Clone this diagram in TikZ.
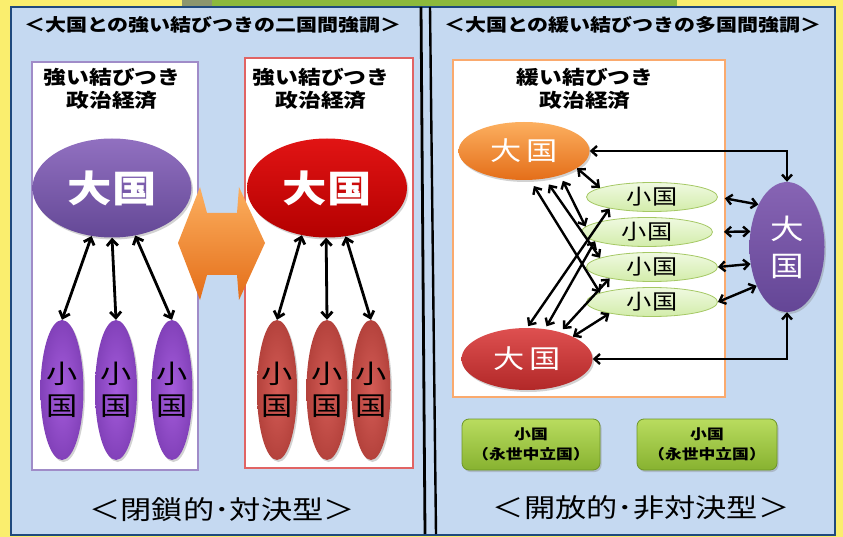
\documentclass[tikz,border=0pt]{standalone}
\usepackage{fontspec}
\newfontfamily\jp[FakeStretch=1.2]{Noto Sans CJK JP}
\usetikzlibrary{shapes.geometric,arrows.meta,shadows}
\definecolor{panel}{RGB}{197,217,241}
\definecolor{panelborder}{RGB}{31,73,125}
\definecolor{yel}{RGB}{250,238,110}
\definecolor{grn}{RGB}{140,185,60}
\definecolor{olive}{RGB}{140,150,110}
\definecolor{bigPtop}{RGB}{145,112,192}
\definecolor{bigPbot}{RGB}{100,72,150}
\definecolor{bigRtop}{RGB}{225,20,20}
\definecolor{bigRbot}{RGB}{180,0,0}
\definecolor{smP}{RGB}{165,92,220}
\definecolor{smPd}{RGB}{130,65,185}
\definecolor{smR}{RGB}{212,92,86}
\definecolor{smRd}{RGB}{180,66,60}
\definecolor{orTop}{RGB}{252,175,95}
\definecolor{orBot}{RGB}{228,110,25}
\definecolor{rTop}{RGB}{222,80,80}
\definecolor{rBot}{RGB}{178,40,40}
\definecolor{pTop}{RGB}{135,100,180}
\definecolor{pBot}{RGB}{100,70,150}
\definecolor{gFillT}{RGB}{240,250,225}
\definecolor{gFillB}{RGB}{210,236,170}
\definecolor{gLine}{RGB}{165,200,100}
\definecolor{btnT}{RGB}{185,220,95}
\definecolor{btnB}{RGB}{135,178,48}
\definecolor{btnLine}{RGB}{110,150,40}
\definecolor{boxP}{RGB}{160,140,200}
\definecolor{boxR}{RGB}{225,100,100}
\definecolor{boxO}{RGB}{250,170,110}
\tikzset{
  el/.style={ellipse, inner sep=0pt, draw=none},
  shd/.style={drop shadow={opacity=0.35, shadow xshift=1.5pt, shadow yshift=-2pt}},
  dbl/.style={{Straight Barb[length=6pt,width=11pt]}-{Straight Barb[length=6pt,width=11pt]}, line width=2.8pt, black},
  dbls/.style={{Straight Barb[length=5.5pt,width=10pt]}-{Straight Barb[length=5.5pt,width=10pt]}, line width=2.4pt, black},
  wbox/.style={fill=white, line width=1.2pt},
  ttl/.style={font=\jp\bfseries\fontsize{17.5}{20}\selectfont, text=black, inner sep=0pt},
  sub/.style={font=\jp\bfseries\fontsize{19}{23}\selectfont, align=center, inner sep=0pt},
  bottomlbl/.style={font=\jp\fontsize{26}{30}\selectfont, inner sep=0pt},
  btn/.style={rounded corners=7pt, draw=btnLine, line width=0.8pt, top color=btnT, bottom color=btnB,
    font=\jp\bfseries\fontsize{14}{20}\selectfont, align=center, inner sep=0pt, shd},
}
\begin{document}
\begin{tikzpicture}[x=1pt,y=-1pt]
\useasboundingbox (0,0) rectangle (843,537);
% outer background
\fill[yel] (0,0) rectangle (843,537);
\fill[olive] (182,0) rectangle (212,8);
\fill[grn] (212,0) rectangle (677,8);
% panel
\fill[panel, draw=panelborder, line width=2.5pt] (11,7) rectangle (835,535);
\draw[line width=2.8pt] (421,7) -- (425,534);
\draw[line width=2.4pt] (430,7) -- (436,534);
% titles
\node[ttl] (t1) at (213,25) {＜大国との強い結びつきの二国間強調＞};
\node[ttl] (t2) at (633,25) {＜大国との緩い結びつきの多国間強調＞};

% ---------- left half ----------
\draw[wbox, draw=boxP] (32,62) rectangle (198,470);
\draw[wbox, draw=boxR] (245,58) rectangle (413,468);
\node[sub] (h1) at (112,89) {強い結びつき\\政治経済};
\node[sub] (h2) at (321,89) {強い結びつき\\政治経済};

\node[el, shd, minimum width=159pt, minimum height=99pt, top color=bigPtop, bottom color=bigPbot] (BL) at (112,188) {};
\node[font=\jp\bfseries\fontsize{37}{40}\selectfont, text=white, inner sep=0pt] (BLt) at (BL.center) {大国};
\node[el, shd, minimum width=160pt, minimum height=99pt, top color=bigRtop, bottom color=bigRbot] (BR) at (327,188) {};
\node[font=\jp\bfseries\fontsize{37}{40}\selectfont, text=white, inner sep=0pt] (BRt) at (BR.center) {大国};

% orange double arrow
\shade[top color=orTop, bottom color=orBot] (178,243) -- (200,187) -- (207,213) -- (237,213) -- (239,187)
  -- (265,243) -- (239,300) -- (237,275) -- (207,275) -- (200,300) -- cycle;

\foreach \n/\x/\w in {s1/62/43, s2/116/42, s3/172/41}{
  \node[el, shd, minimum width=\w pt, minimum height=140pt, inner color=smP, outer color=smPd] (\n) at (\x,390) {};
  \node[font=\jp\fontsize{26}{32}\selectfont, align=center, inner sep=0pt] (\n t) at (\n.center) {小\\国};
}
\foreach \n/\x/\w in {r1/277/40, r2/327/41, r3/371/39}{
  \node[el, shd, minimum width=\w pt, minimum height=140pt, inner color=smR, outer color=smRd] (\n) at (\x,390) {};
  \node[font=\jp\fontsize{26}{32}\selectfont, align=center, inner sep=0pt] (\n t) at (\n.center) {小\\国};
}
\draw[dbl] (BL.247) -- (s1.north);
\draw[dbl] (BL.270) -- (s2.north);
\draw[dbl] (BL.296) -- (s3.north);
\draw[dbl] (BR.242) -- (r1.north);
\draw[dbl] (BR.269) -- (r2.north);
\draw[dbl] (BR.291) -- (r3.north);

\node[bottomlbl] (L1) at (222,510) {＜閉鎖的･対決型＞};

% ---------- right half ----------
\draw[wbox, draw=boxO] (453,60) rectangle (725,397);
\node[sub] (h3) at (585,89) {緩い結びつき\\政治経済};

\node[el, shd, minimum width=131pt, minimum height=58pt, top color=orTop, bottom color=orBot] (O) at (524,151) {};
\node[font=\jp\fontsize{26}{30}\selectfont, text=white, inner sep=0pt] (Ot) at (O.center) {大\hspace{4pt}国};
\node[el, shd, minimum width=131pt, minimum height=62pt, top color=rTop, bottom color=rBot] (R) at (527,359) {};
\node[font=\jp\fontsize{26}{30}\selectfont, text=white, inner sep=0pt] (Rt) at (R.center) {大\hspace{4pt}国};

\foreach \n/\x/\y in {g1/652/197, g2/647/232, g3/652/267, g4/652/302}{
  \node[el, draw=gLine, line width=0.8pt, minimum width=131pt, minimum height=29pt, top color=gFillT, bottom color=gFillB] (\n) at (\x,\y) {};
  \node[font=\jp\fontsize{21}{24}\selectfont, inner sep=0pt] (\n t) at (\n.center) {小国};
}

\node[el, shd, minimum width=75pt, minimum height=130pt, top color=pTop, bottom color=pBot] (P) at (787,247) {};
\node[font=\jp\fontsize{28}{37}\selectfont, text=white, align=center, inner sep=0pt] (Pt) at (P.center) {大\\国};

% crossing arrows
\draw[dbls] (O.342) -- (g1.170);
\draw[dbls, shorten <=6pt] (O.326) -- (g2.175);
\draw[dbls, shorten <=7pt] (O.307) -- (g3.170);
\draw[dbls, shorten <=7pt] (O.282) -- (g4.170);
\draw[dbls] (R.26) -- (g4.195);
\draw[dbls, shorten <=4pt] (R.39) -- (g3.195);
\draw[dbls, shorten <=3pt] (R.59) -- (g2.190);
\draw[dbls, shorten <=2pt] (R.90) -- (g1.195);

% to the big purple country
\draw[dbls] (O.east) -| (P.north);
\draw[dbls] (R.east) -| (P.south);
\draw[dbls, shorten <=7pt] (g1.east) -- (P.124);
\draw[dbls, shorten <=11pt] (g2.east) -- (P.157);
\draw[dbls] (g3.east) -- (P.205);
\draw[dbls] (g4.east) -- (P.232);

% buttons
\node[btn, minimum width=138pt, minimum height=51pt] (B1) at (531,444.5) {小国\\（永世中立国）};
\node[btn, minimum width=140pt, minimum height=51pt] (B2) at (707,444.5) {小国\\（永世中立国）};

\node[bottomlbl] (L2) at (641,508) {＜開放的･非対決型＞};
\end{tikzpicture}
\end{document}
